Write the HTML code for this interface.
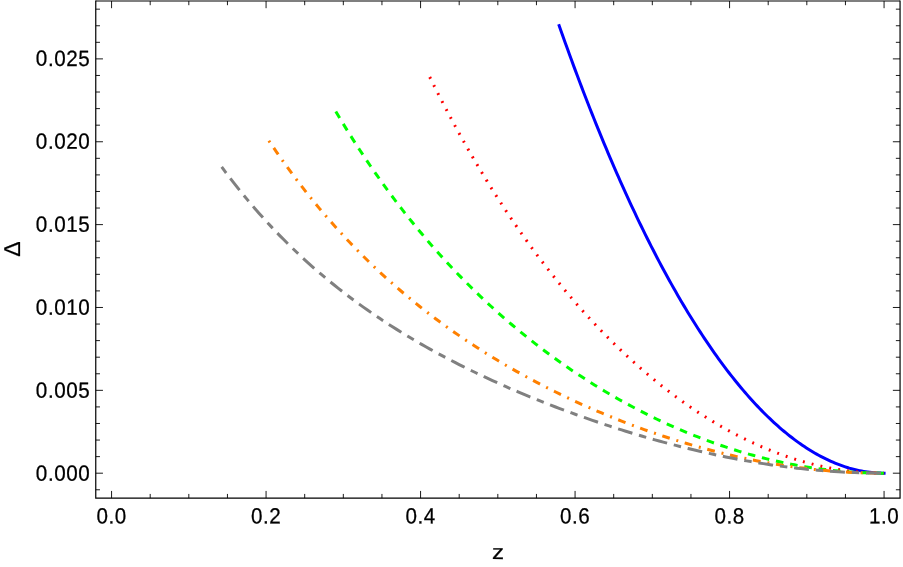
<!DOCTYPE html>
<html><head><meta charset="utf-8"><title>plot</title>
<style>
html,body{margin:0;padding:0;background:#fff;}
svg{display:block;will-change:transform;}
text{text-rendering:geometricPrecision;font-family:"Liberation Sans",sans-serif;font-size:21.6px;fill:#000;stroke:#000;stroke-width:0.25px;}
.tl{letter-spacing:0.6px;}
</style></head><body>
<svg width="903" height="567" viewBox="0 0 903 567">
<rect width="903" height="567" fill="#fff"/>
<g fill="none" stroke-width="3.0" stroke-linecap="butt" stroke-linejoin="round">
<path d="M559.17,25.64 L561.21,31.44 L563.26,37.21 L565.30,42.93 L567.34,48.60 L569.39,54.24 L571.43,59.83 L573.47,65.38 L575.52,70.88 L577.56,76.34 L579.60,81.76 L581.65,87.14 L583.69,92.48 L585.73,97.77 L587.78,103.02 L589.82,108.23 L591.86,113.40 L593.91,118.53 L595.95,123.62 L597.99,128.67 L600.04,133.68 L602.08,138.64 L604.12,143.57 L606.17,148.45 L608.21,153.30 L610.25,158.11 L612.30,162.87 L614.34,167.60 L616.39,172.29 L618.43,176.93 L620.47,181.54 L622.52,186.11 L624.56,190.64 L626.60,195.14 L628.65,199.59 L630.69,204.01 L632.73,208.38 L634.78,212.72 L636.82,217.02 L638.86,221.28 L640.91,225.51 L642.95,229.70 L644.99,233.84 L647.04,237.96 L649.08,242.03 L651.12,246.07 L653.17,250.06 L655.21,254.03 L657.25,257.95 L659.30,261.84 L661.34,265.69 L663.38,269.50 L665.43,273.28 L667.47,277.02 L669.51,280.72 L671.56,284.39 L673.60,288.02 L675.64,291.61 L677.69,295.17 L679.73,298.69 L681.77,302.18 L683.82,305.63 L685.86,309.04 L687.90,312.42 L689.95,315.76 L691.99,319.06 L694.03,322.33 L696.08,325.56 L698.12,328.76 L700.16,331.92 L702.21,335.05 L704.25,338.14 L706.29,341.20 L708.34,344.21 L710.38,347.20 L712.42,350.15 L714.47,353.06 L716.51,355.94 L718.55,358.78 L720.60,361.59 L722.64,364.36 L724.69,367.10 L726.73,369.80 L728.77,372.47 L730.82,375.10 L732.86,377.69 L734.90,380.25 L736.95,382.78 L738.99,385.27 L741.03,387.73 L743.08,390.15 L745.12,392.54 L747.16,394.89 L749.21,397.20 L751.25,399.49 L753.29,401.73 L755.34,403.94 L757.38,406.12 L759.42,408.26 L761.47,410.37 L763.51,412.44 L765.55,414.48 L767.60,416.48 L769.64,418.45 L771.68,420.39 L773.73,422.29 L775.77,424.15 L777.81,425.98 L779.86,427.77 L781.90,429.53 L783.94,431.26 L785.99,432.95 L788.03,434.60 L790.07,436.22 L792.12,437.81 L794.16,439.36 L796.20,440.88 L798.25,442.36 L800.29,443.81 L802.33,445.22 L804.38,446.60 L806.42,447.94 L808.46,449.25 L810.51,450.52 L812.55,451.76 L814.59,452.96 L816.64,454.13 L818.68,455.27 L820.72,456.37 L822.77,457.43 L824.81,458.46 L826.85,459.46 L828.90,460.42 L830.94,461.34 L832.99,462.23 L835.03,463.09 L837.07,463.91 L839.12,464.70 L841.16,465.45 L843.20,466.17 L845.25,466.85 L847.29,467.49 L849.33,468.11 L851.38,468.68 L853.42,469.22 L855.46,469.73 L857.51,470.20 L859.55,470.64 L861.59,471.04 L863.64,471.41 L865.68,471.74 L867.72,472.04 L869.77,472.30 L871.81,472.53 L873.85,472.72 L875.90,472.88 L877.94,473.00 L879.98,473.09 L882.03,473.14 L884.07,473.16" stroke="#0000ff" stroke-linecap="square"/>
<path d="M429.73,77.01 L432.59,82.77 L435.44,88.47 L438.30,94.10 L441.16,99.67 L444.02,105.18 L446.87,110.62 L449.73,116.01 L452.59,121.34 L455.45,126.61 L458.30,131.82 L461.16,136.97 L464.02,142.07 L466.88,147.11 L469.73,152.09 L472.59,157.02 L475.45,161.90 L478.31,166.72 L481.16,171.49 L484.02,176.21 L486.88,180.87 L489.74,185.49 L492.59,190.05 L495.45,194.57 L498.31,199.03 L501.17,203.44 L504.02,207.81 L506.88,212.13 L509.74,216.40 L512.60,220.63 L515.45,224.81 L518.31,228.94 L521.17,233.02 L524.03,237.07 L526.88,241.06 L529.74,245.02 L532.60,248.93 L535.46,252.79 L538.31,256.62 L541.17,260.40 L544.03,264.14 L546.89,267.84 L549.74,271.50 L552.60,275.11 L555.46,278.69 L558.32,282.23 L561.17,285.72 L564.03,289.18 L566.89,292.60 L569.75,295.98 L572.60,299.32 L575.46,302.63 L578.32,305.89 L581.18,309.12 L584.03,312.31 L586.89,315.47 L589.75,318.59 L592.61,321.67 L595.46,324.72 L598.32,327.73 L601.18,330.71 L604.04,333.65 L606.89,336.55 L609.75,339.43 L612.61,342.26 L615.47,345.07 L618.32,347.84 L621.18,350.57 L624.04,353.28 L626.90,355.95 L629.75,358.58 L632.61,361.19 L635.47,363.76 L638.33,366.30 L641.18,368.80 L644.04,371.28 L646.90,373.72 L649.76,376.13 L652.61,378.51 L655.47,380.86 L658.33,383.17 L661.19,385.46 L664.04,387.71 L666.90,389.93 L669.76,392.13 L672.62,394.29 L675.47,396.42 L678.33,398.52 L681.19,400.59 L684.05,402.63 L686.90,404.64 L689.76,406.62 L692.62,408.57 L695.48,410.49 L698.33,412.38 L701.19,414.24 L704.05,416.07 L706.91,417.87 L709.76,419.64 L712.62,421.39 L715.48,423.10 L718.34,424.78 L721.19,426.44 L724.05,428.06 L726.91,429.66 L729.77,431.23 L732.62,432.77 L735.48,434.28 L738.34,435.76 L741.20,437.21 L744.05,438.63 L746.91,440.03 L749.77,441.39 L752.63,442.73 L755.48,444.03 L758.34,445.31 L761.20,446.56 L764.06,447.78 L766.91,448.98 L769.77,450.14 L772.63,451.28 L775.49,452.38 L778.34,453.46 L781.20,454.51 L784.06,455.53 L786.92,456.52 L789.77,457.48 L792.63,458.42 L795.49,459.32 L798.35,460.20 L801.20,461.05 L804.06,461.87 L806.92,462.66 L809.78,463.42 L812.63,464.16 L815.49,464.86 L818.35,465.54 L821.21,466.19 L824.06,466.81 L826.92,467.40 L829.78,467.96 L832.64,468.49 L835.49,469.00 L838.35,469.47 L841.21,469.92 L844.07,470.34 L846.92,470.72 L849.78,471.08 L852.64,471.42 L855.50,471.72 L858.35,471.99 L861.21,472.24 L864.07,472.45 L866.93,472.64 L869.78,472.80 L872.64,472.93 L875.50,473.03 L878.36,473.10 L881.21,473.15 L884.07,473.16" stroke="#ff0000" stroke-dasharray="1.9 7.126"/>
<path d="M335.80,111.52 L339.25,117.29 L342.70,122.99 L346.14,128.60 L349.59,134.13 L353.04,139.58 L356.49,144.96 L359.94,150.26 L363.39,155.49 L366.83,160.64 L370.28,165.72 L373.73,170.73 L377.18,175.68 L380.63,180.55 L384.08,185.35 L387.52,190.09 L390.97,194.77 L394.42,199.38 L397.87,203.93 L401.32,208.41 L404.76,212.84 L408.21,217.20 L411.66,221.51 L415.11,225.76 L418.56,229.95 L422.01,234.08 L425.45,238.16 L428.90,242.19 L432.35,246.16 L435.80,250.08 L439.25,253.95 L442.70,257.76 L446.14,261.53 L449.59,265.24 L453.04,268.91 L456.49,272.53 L459.94,276.11 L463.38,279.63 L466.83,283.11 L470.28,286.55 L473.73,289.94 L477.18,293.29 L480.63,296.60 L484.07,299.86 L487.52,303.08 L490.97,306.26 L494.42,309.40 L497.87,312.50 L501.32,315.56 L504.76,318.58 L508.21,321.56 L511.66,324.50 L515.11,327.41 L518.56,330.28 L522.00,333.11 L525.45,335.91 L528.90,338.67 L532.35,341.40 L535.80,344.09 L539.25,346.75 L542.69,349.37 L546.14,351.96 L549.59,354.52 L553.04,357.05 L556.49,359.54 L559.94,362.00 L563.38,364.43 L566.83,366.83 L570.28,369.19 L573.73,371.53 L577.18,373.83 L580.62,376.11 L584.07,378.35 L587.52,380.57 L590.97,382.76 L594.42,384.91 L597.87,387.04 L601.31,389.14 L604.76,391.21 L608.21,393.26 L611.66,395.27 L615.11,397.26 L618.56,399.22 L622.00,401.15 L625.45,403.05 L628.90,404.93 L632.35,406.78 L635.80,408.61 L639.25,410.40 L642.69,412.17 L646.14,413.92 L649.59,415.64 L653.04,417.33 L656.49,418.99 L659.93,420.63 L663.38,422.25 L666.83,423.83 L670.28,425.39 L673.73,426.93 L677.18,428.44 L680.62,429.93 L684.07,431.39 L687.52,432.82 L690.97,434.23 L694.42,435.61 L697.87,436.97 L701.31,438.30 L704.76,439.61 L708.21,440.89 L711.66,442.15 L715.11,443.38 L718.55,444.59 L722.00,445.77 L725.45,446.93 L728.90,448.06 L732.35,449.17 L735.80,450.25 L739.24,451.31 L742.69,452.34 L746.14,453.35 L749.59,454.33 L753.04,455.29 L756.49,456.22 L759.93,457.13 L763.38,458.01 L766.83,458.87 L770.28,459.70 L773.73,460.50 L777.17,461.29 L780.62,462.04 L784.07,462.78 L787.52,463.48 L790.97,464.17 L794.42,464.82 L797.86,465.45 L801.31,466.06 L804.76,466.64 L808.21,467.20 L811.66,467.73 L815.11,468.24 L818.55,468.72 L822.00,469.18 L825.45,469.61 L828.90,470.02 L832.35,470.40 L835.79,470.76 L839.24,471.09 L842.69,471.40 L846.14,471.68 L849.59,471.94 L853.04,472.17 L856.48,472.38 L859.93,472.56 L863.38,472.72 L866.83,472.86 L870.28,472.97 L873.73,473.05 L877.17,473.11 L880.62,473.15 L884.07,473.16" stroke="#00ff00" stroke-dasharray="7.6 6.845"/>
<path d="M268.85,140.72 L272.72,146.45 L276.59,152.09 L280.46,157.63 L284.33,163.07 L288.20,168.42 L292.07,173.68 L295.94,178.85 L299.80,183.93 L303.67,188.93 L307.54,193.84 L311.41,198.67 L315.28,203.42 L319.15,208.09 L323.02,212.68 L326.89,217.20 L330.76,221.64 L334.63,226.01 L338.50,230.31 L342.37,234.54 L346.24,238.70 L350.11,242.79 L353.97,246.82 L357.84,250.78 L361.71,254.69 L365.58,258.52 L369.45,262.30 L373.32,266.02 L377.19,269.68 L381.06,273.29 L384.93,276.84 L388.80,280.33 L392.67,283.78 L396.54,287.17 L400.41,290.51 L404.28,293.80 L408.15,297.04 L412.01,300.23 L415.88,303.37 L419.75,306.47 L423.62,309.53 L427.49,312.54 L431.36,315.50 L435.23,318.43 L439.10,321.31 L442.97,324.15 L446.84,326.95 L450.71,329.71 L454.58,332.44 L458.45,335.12 L462.32,337.77 L466.18,340.39 L470.05,342.96 L473.92,345.50 L477.79,348.01 L481.66,350.49 L485.53,352.93 L489.40,355.33 L493.27,357.71 L497.14,360.06 L501.01,362.37 L504.88,364.65 L508.75,366.90 L512.62,369.13 L516.49,371.32 L520.36,373.49 L524.22,375.63 L528.09,377.74 L531.96,379.82 L535.83,381.87 L539.70,383.90 L543.57,385.91 L547.44,387.88 L551.31,389.83 L555.18,391.76 L559.05,393.66 L562.92,395.53 L566.79,397.39 L570.66,399.21 L574.53,401.01 L578.39,402.79 L582.26,404.55 L586.13,406.28 L590.00,407.99 L593.87,409.67 L597.74,411.34 L601.61,412.98 L605.48,414.59 L609.35,416.19 L613.22,417.76 L617.09,419.31 L620.96,420.84 L624.83,422.35 L628.70,423.83 L632.56,425.29 L636.43,426.73 L640.30,428.15 L644.17,429.55 L648.04,430.93 L651.91,432.28 L655.78,433.61 L659.65,434.92 L663.52,436.21 L667.39,437.48 L671.26,438.73 L675.13,439.95 L679.00,441.16 L682.87,442.34 L686.74,443.50 L690.60,444.64 L694.47,445.76 L698.34,446.85 L702.21,447.93 L706.08,448.98 L709.95,450.01 L713.82,451.02 L717.69,452.01 L721.56,452.97 L725.43,453.91 L729.30,454.84 L733.17,455.74 L737.04,456.61 L740.91,457.47 L744.77,458.30 L748.64,459.11 L752.51,459.90 L756.38,460.67 L760.25,461.41 L764.12,462.14 L767.99,462.83 L771.86,463.51 L775.73,464.17 L779.60,464.80 L783.47,465.41 L787.34,465.99 L791.21,466.55 L795.08,467.09 L798.95,467.61 L802.81,468.11 L806.68,468.58 L810.55,469.03 L814.42,469.45 L818.29,469.85 L822.16,470.23 L826.03,470.59 L829.90,470.92 L833.77,471.23 L837.64,471.52 L841.51,471.78 L845.38,472.02 L849.25,472.24 L853.12,472.43 L856.98,472.60 L860.85,472.75 L864.72,472.88 L868.59,472.98 L872.46,473.06 L876.33,473.11 L880.20,473.15 L884.07,473.16" stroke="#ff8000" stroke-dasharray="2.0 6.75 7.8 6.907"/>
<path d="M221.70,166.97 L225.87,172.56 L230.03,178.03 L234.20,183.40 L238.36,188.66 L242.53,193.81 L246.70,198.86 L250.86,203.81 L255.03,208.67 L259.19,213.42 L263.36,218.08 L267.52,222.66 L271.69,227.14 L275.86,231.53 L280.02,235.84 L284.19,240.07 L288.35,244.22 L292.52,248.29 L296.69,252.28 L300.85,256.19 L305.02,260.04 L309.18,263.81 L313.35,267.51 L317.51,271.15 L321.68,274.71 L325.85,278.22 L330.01,281.66 L334.18,285.04 L338.34,288.36 L342.51,291.62 L346.68,294.83 L350.84,297.98 L355.01,301.08 L359.17,304.12 L363.34,307.12 L367.50,310.06 L371.67,312.96 L375.84,315.81 L380.00,318.61 L384.17,321.37 L388.33,324.08 L392.50,326.76 L396.67,329.39 L400.83,331.98 L405.00,334.53 L409.16,337.04 L413.33,339.52 L417.49,341.96 L421.66,344.36 L425.83,346.73 L429.99,349.07 L434.16,351.37 L438.32,353.64 L442.49,355.88 L446.66,358.09 L450.82,360.27 L454.99,362.43 L459.15,364.55 L463.32,366.64 L467.49,368.71 L471.65,370.75 L475.82,372.77 L479.98,374.76 L484.15,376.72 L488.31,378.66 L492.48,380.58 L496.65,382.47 L500.81,384.34 L504.98,386.19 L509.14,388.02 L513.31,389.82 L517.48,391.60 L521.64,393.36 L525.81,395.11 L529.97,396.83 L534.14,398.53 L538.30,400.21 L542.47,401.87 L546.64,403.51 L550.80,405.13 L554.97,406.74 L559.13,408.32 L563.30,409.89 L567.47,411.44 L571.63,412.96 L575.80,414.48 L579.96,415.97 L584.13,417.45 L588.29,418.90 L592.46,420.34 L596.63,421.77 L600.79,423.17 L604.96,424.56 L609.12,425.93 L613.29,427.28 L617.46,428.61 L621.62,429.93 L625.79,431.23 L629.95,432.51 L634.12,433.77 L638.28,435.02 L642.45,436.24 L646.62,437.45 L650.78,438.65 L654.95,439.82 L659.11,440.97 L663.28,442.11 L667.45,443.23 L671.61,444.33 L675.78,445.41 L679.94,446.48 L684.11,447.52 L688.28,448.55 L692.44,449.56 L696.61,450.54 L700.77,451.51 L704.94,452.46 L709.10,453.39 L713.27,454.30 L717.44,455.19 L721.60,456.06 L725.77,456.91 L729.93,457.74 L734.10,458.55 L738.27,459.34 L742.43,460.11 L746.60,460.86 L750.76,461.58 L754.93,462.29 L759.09,462.97 L763.26,463.64 L767.43,464.28 L771.59,464.90 L775.76,465.50 L779.92,466.07 L784.09,466.63 L788.26,467.16 L792.42,467.67 L796.59,468.16 L800.75,468.62 L804.92,469.07 L809.08,469.49 L813.25,469.88 L817.42,470.26 L821.58,470.61 L825.75,470.94 L829.91,471.25 L834.08,471.53 L838.25,471.79 L842.41,472.03 L846.58,472.25 L850.74,472.44 L854.91,472.61 L859.07,472.76 L863.24,472.88 L867.41,472.98 L871.57,473.06 L875.74,473.12 L879.90,473.15 L884.07,473.16" stroke="#808080" stroke-dasharray="7.5 6.8 14.9 6.9"/>
</g>
<path d="M111.57,498.13L111.57,490.93M111.57,1.00L111.57,8.20M150.19,498.13L150.19,493.93M150.19,1.00L150.19,5.20M188.82,498.13L188.82,493.93M188.82,1.00L188.82,5.20M227.44,498.13L227.44,493.93M227.44,1.00L227.44,5.20M266.07,498.13L266.07,490.93M266.07,1.00L266.07,8.20M304.69,498.13L304.69,493.93M304.69,1.00L304.69,5.20M343.32,498.13L343.32,493.93M343.32,1.00L343.32,5.20M381.94,498.13L381.94,493.93M381.94,1.00L381.94,5.20M420.57,498.13L420.57,490.93M420.57,1.00L420.57,8.20M459.19,498.13L459.19,493.93M459.19,1.00L459.19,5.20M497.82,498.13L497.82,493.93M497.82,1.00L497.82,5.20M536.45,498.13L536.45,493.93M536.45,1.00L536.45,5.20M575.07,498.13L575.07,490.93M575.07,1.00L575.07,8.20M613.69,498.13L613.69,493.93M613.69,1.00L613.69,5.20M652.32,498.13L652.32,493.93M652.32,1.00L652.32,5.20M690.94,498.13L690.94,493.93M690.94,1.00L690.94,5.20M729.57,498.13L729.57,490.93M729.57,1.00L729.57,8.20M768.20,498.13L768.20,493.93M768.20,1.00L768.20,5.20M806.82,498.13L806.82,493.93M806.82,1.00L806.82,5.20M845.44,498.13L845.44,493.93M845.44,1.00L845.44,5.20M884.07,498.13L884.07,490.93M884.07,1.00L884.07,8.20M95.76,489.77L99.96,489.77M900.06,489.77L895.86,489.77M95.76,473.20L102.96,473.20M900.06,473.20L892.86,473.20M95.76,456.63L99.96,456.63M900.06,456.63L895.86,456.63M95.76,440.06L99.96,440.06M900.06,440.06L895.86,440.06M95.76,423.48L99.96,423.48M900.06,423.48L895.86,423.48M95.76,406.91L99.96,406.91M900.06,406.91L895.86,406.91M95.76,390.34L102.96,390.34M900.06,390.34L892.86,390.34M95.76,373.77L99.96,373.77M900.06,373.77L895.86,373.77M95.76,357.19L99.96,357.19M900.06,357.19L895.86,357.19M95.76,340.62L99.96,340.62M900.06,340.62L895.86,340.62M95.76,324.05L99.96,324.05M900.06,324.05L895.86,324.05M95.76,307.48L102.96,307.48M900.06,307.48L892.86,307.48M95.76,290.90L99.96,290.90M900.06,290.90L895.86,290.90M95.76,274.33L99.96,274.33M900.06,274.33L895.86,274.33M95.76,257.76L99.96,257.76M900.06,257.76L895.86,257.76M95.76,241.19L99.96,241.19M900.06,241.19L895.86,241.19M95.76,224.61L102.96,224.61M900.06,224.61L892.86,224.61M95.76,208.04L99.96,208.04M900.06,208.04L895.86,208.04M95.76,191.47L99.96,191.47M900.06,191.47L895.86,191.47M95.76,174.90L99.96,174.90M900.06,174.90L895.86,174.90M95.76,158.32L99.96,158.32M900.06,158.32L895.86,158.32M95.76,141.75L102.96,141.75M900.06,141.75L892.86,141.75M95.76,125.18L99.96,125.18M900.06,125.18L895.86,125.18M95.76,108.61L99.96,108.61M900.06,108.61L895.86,108.61M95.76,92.03L99.96,92.03M900.06,92.03L895.86,92.03M95.76,75.46L99.96,75.46M900.06,75.46L895.86,75.46M95.76,58.89L102.96,58.89M900.06,58.89L892.86,58.89M95.76,42.32L99.96,42.32M900.06,42.32L895.86,42.32M95.76,25.75L99.96,25.75M900.06,25.75L895.86,25.75M95.76,9.17L99.96,9.17M900.06,9.17L895.86,9.17" stroke="#000" stroke-width="0.9" fill="none"/>
<path d="M95.76,1.0H900.06" fill="none" stroke="#000" stroke-width="1.05"/>
<path d="M95.76,0.5V498.13H900.06V0.5" fill="none" stroke="#000" stroke-width="1.2" stroke-linejoin="miter"/>
<text transform="translate(111.57,523.55) scale(0.955,1.022) rotate(0.03)" class="tl" text-anchor="middle">0.0</text><text transform="translate(266.07,523.55) scale(0.955,1.022) rotate(0.03)" class="tl" text-anchor="middle">0.2</text><text transform="translate(420.57,523.55) scale(0.955,1.022) rotate(0.03)" class="tl" text-anchor="middle">0.4</text><text transform="translate(575.07,523.55) scale(0.955,1.022) rotate(0.03)" class="tl" text-anchor="middle">0.6</text><text transform="translate(729.57,523.55) scale(0.955,1.022) rotate(0.03)" class="tl" text-anchor="middle">0.8</text><text transform="translate(884.07,523.55) scale(0.955,1.022) rotate(0.03)" class="tl" text-anchor="middle">1.0</text>
<text transform="translate(90.35,480.70) scale(0.955,1.022) rotate(0.03)" class="tl" text-anchor="end">0.000</text><text transform="translate(90.35,397.74) scale(0.955,1.022) rotate(0.03)" class="tl" text-anchor="end">0.005</text><text transform="translate(90.35,314.78) scale(0.955,1.022) rotate(0.03)" class="tl" text-anchor="end">0.010</text><text transform="translate(90.35,231.82) scale(0.955,1.022) rotate(0.03)" class="tl" text-anchor="end">0.015</text><text transform="translate(90.35,148.86) scale(0.955,1.022) rotate(0.03)" class="tl" text-anchor="end">0.020</text><text transform="translate(90.35,65.90) scale(0.955,1.022) rotate(0.03)" class="tl" text-anchor="end">0.025</text>
<text transform="translate(498.05,558.9) scale(1.114,0.949) rotate(0.03)" text-anchor="middle">z</text>
<text transform="translate(19.8,248.95) rotate(-90) scale(1,0.994)" text-anchor="middle" style="font-size:23.0px">Δ</text>
</svg>
</body></html>
